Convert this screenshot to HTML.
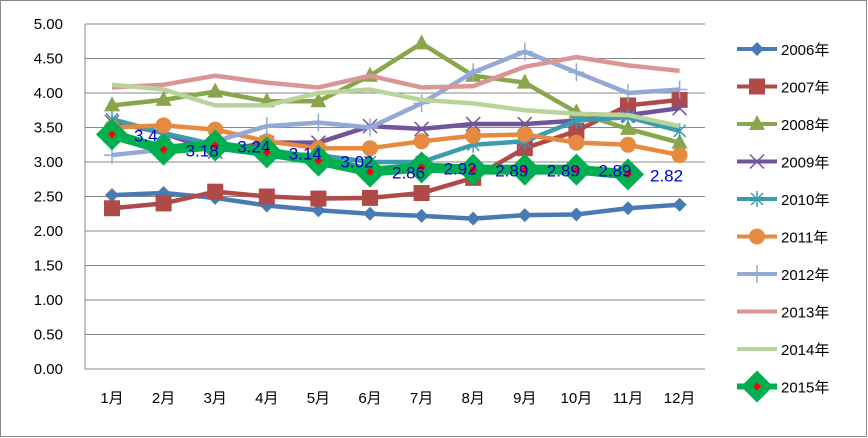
<!DOCTYPE html>
<html><head><meta charset="utf-8"><style>
body{margin:0;background:#fff;}
svg{display:block;font-family:"Liberation Sans","Noto Sans CJK SC",sans-serif;}
</style></head><body>
<svg id="chart" width="868" height="438">
<rect x="0.5" y="0.5" width="866" height="436" fill="#fff" stroke="#888"/>
<g id="grid"></g><g id="series"></g><g id="legend"></g>
</svg>
<script>
const months=["1月","2月","3月","4月","5月","6月","7月","8月","9月","10月","11月","12月"];
const yTicks=[0,0.5,1,1.5,2,2.5,3,3.5,4,4.5,5];
const s2006=[2.52,2.55,2.48,2.37,2.30,2.25,2.22,2.18,2.23,2.24,2.33,2.38];
const s2007=[2.33,2.40,2.57,2.50,2.47,2.48,2.55,2.77,3.20,3.45,3.82,3.90];
const s2008=[3.82,3.90,4.02,3.88,3.88,4.25,4.72,4.25,4.15,3.72,3.48,3.28];
const s2009=[3.58,3.42,3.15,3.28,3.28,3.52,3.48,3.55,3.55,3.60,3.68,3.78];
const s2010=[3.62,3.42,3.25,3.12,3.10,3.00,3.00,3.25,3.30,3.60,3.65,3.45];
const s2011=[3.50,3.53,3.47,3.30,3.20,3.20,3.30,3.38,3.40,3.28,3.25,3.10];
const s2012=[3.10,3.18,3.30,3.52,3.57,3.50,3.85,4.30,4.60,4.30,4.00,4.05];
const s2013=[4.08,4.12,4.25,4.15,4.08,4.25,4.08,4.10,4.38,4.52,4.40,4.32];
const s2014=[4.12,4.05,3.82,3.82,4.00,4.05,3.90,3.85,3.75,3.70,3.68,3.52];
const s2015=[3.4,3.18,3.24,3.14,3.02,2.86,2.92,2.89,2.89,2.89,2.82];
const seriesNames=["2006年","2007年","2008年","2009年","2010年","2011年","2012年","2013年","2014年","2015年"];
const NS="http://www.w3.org/2000/svg";
const X0=112,DX=51.6,Y0=369,PY=69;
const xs=i=>X0+i*DX, ys=v=>Y0-v*PY;
function mk(t,a,p){const e=document.createElementNS(NS,t);for(const k in a)e.setAttribute(k,a[k]);p.appendChild(e);return e;}
const grid=document.getElementById('grid');
yTicks.forEach(t=>{
 const l=mk('line',{x1:85,x2:705,y1:ys(t),y2:ys(t),stroke:'#888','stroke-width':1},grid);
 
 
 const tx=mk('text',{x:63,y:ys(t)+5,'text-anchor':'end','font-size':15},grid);tx.textContent=t.toFixed(2);
 
 
});
const ax=mk('line',{x1:85,x2:85,y1:24,y2:369,stroke:'#888'},grid);


months.forEach((m,i)=>{const t=mk('text',{x:xs(i),y:403,'text-anchor':'middle','font-size':15},grid);t.textContent=m;
 
 });
const data=[s2006,s2007,s2008,s2009,s2010,s2011,s2012,s2013,s2014,s2015];
const colors=["#4a7ab4","#b04a48","#8aa64c","#70559a","#3d9bb0","#e58a3e","#93aad6","#d99694","#b9d49a","#00b050"];
const markers=["diamond","square","triangle","x","star","circle","plus","none","none","bigdiamond"];
function marker(g,type,x,y,c){
 if(type==="diamond")mk('path',{d:`M${x},${y-7}L${x+7},${y}L${x},${y+7}L${x-7},${y}Z`,fill:c},g);
 else if(type==="square")mk('rect',{x:x-8,y:y-8,width:16,height:16,fill:c},g);
 else if(type==="triangle")mk('path',{d:`M${x},${y-9}L${x+8},${y+6}L${x-8},${y+6}Z`,fill:c},g);
 else if(type==="x")mk('path',{d:`M${x-7},${y-7}L${x+7},${y+7}M${x+7},${y-7}L${x-7},${y+7}`,stroke:c,'stroke-width':1.5},g);
 else if(type==="star")mk('path',{d:`M${x-6},${y-6}L${x+6},${y+6}M${x+6},${y-6}L${x-6},${y+6}M${x},${y-8}L${x},${y+8}`,stroke:c,'stroke-width':1.5},g);
 else if(type==="circle")mk('circle',{cx:x,cy:y,r:8,fill:c},g);
 else if(type==="plus")mk('path',{d:`M${x-8},${y}L${x+8},${y}M${x},${y-9}L${x},${y+9}`,stroke:c,'stroke-width':1.5},g);
 else if(type==="bigdiamond"){mk('path',{d:`M${x},${y-16}L${x+16},${y}L${x},${y+16}L${x-16},${y}Z`,fill:c},g);
  mk('path',{d:`M${x},${y-4}L${x+4},${y}L${x},${y+4}L${x-4},${y}Z`,fill:'#f00'},g);}
}
const sg=document.getElementById('series');
data.forEach((arr,k)=>{
 const g=mk('g',{},sg);
 
 
 const pts=arr.map((v,i)=>xs(i)+','+ys(v)).join(' ');
 mk('polyline',{points:pts,fill:'none',stroke:colors[k],'stroke-width':k===9?10:4.5,'stroke-linejoin':'round'},g);
 arr.forEach((v,i)=>marker(g,markers[k],xs(i),ys(v),colors[k]));
 if(k===9){arr.forEach((v,i)=>{const t=mk('text',{x:xs(i)+22,y:ys(v)+7,'font-size':17,fill:'#0000cc'},g);t.textContent=String(v);
  
  });}
});
const lg=document.getElementById('legend');
seriesNames.forEach((n,k)=>{
 const y=49+k*37.5;
 const g=mk('g',{},lg);
 
 
 mk('line',{x1:737,x2:777,y1:y,y2:y,stroke:colors[k],'stroke-width':k===9?6:4},g);
 marker(g,markers[k],757,y,colors[k]);
 const t=mk('text',{x:781,y:y+6,'font-size':15},g);t.textContent=n;
});
</script>
</body></html>
